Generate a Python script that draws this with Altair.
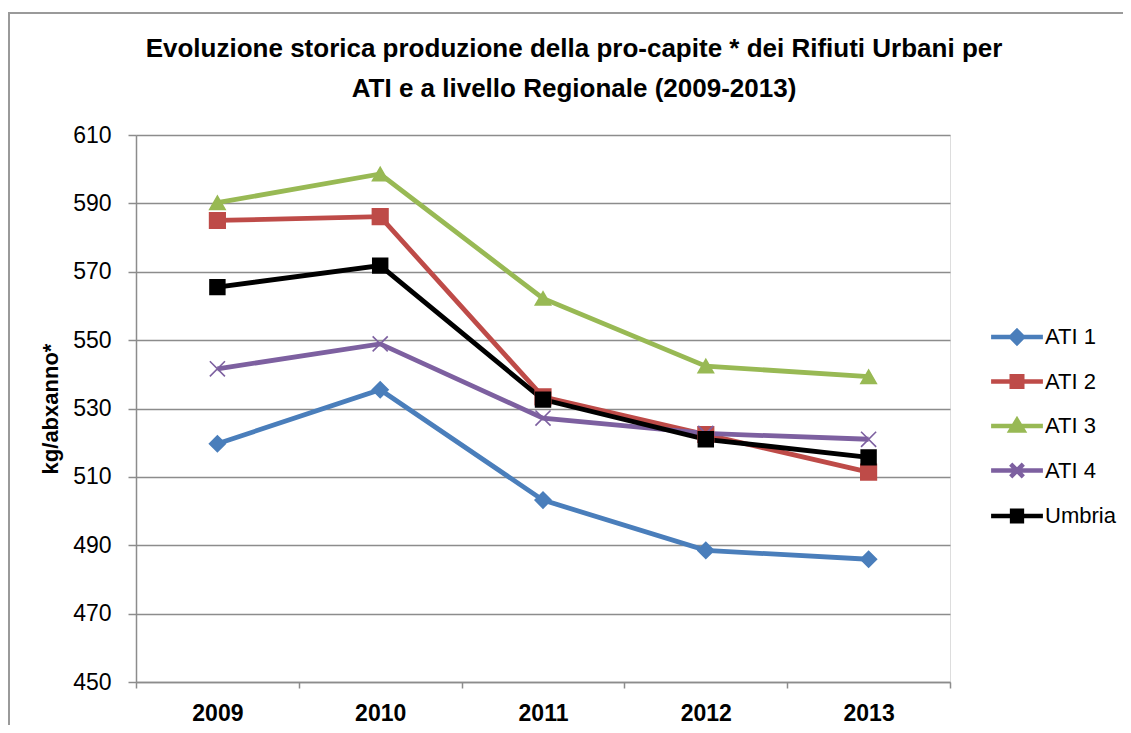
import altair as alt
import pandas as pd

years = ["2009", "2010", "2011", "2012", "2013"]
series = ["ATI 1", "ATI 2", "ATI 3", "ATI 4", "Umbria"]
ati1 = [519.7, 535.5, 503.2, 488.5, 485.9]
ati2 = [585.0, 586.1, 533.4, 522.4, 511.4]
ati3 = [590.2, 598.6, 562.2, 542.4, 539.3]
ati4 = [541.6, 548.9, 527.2, 522.7, 521.0]
umbria = [565.5, 571.8, 532.6, 521.0, 515.7]
y_ticks = [450, 470, 490, 510, 530, 550, 570, 590, 610]

line_colors = ["#4A7EBB", "#BE4B48", "#98B954", "#7D60A0", "#000000"]
marker_shapes = ["diamond", "square", "triangle-up",
                 "M-1,-1L1,1M-1,1L1,-1", "square"]
marker_sizes = [250, 220, 260, 240, 230]
legend_shapes = [
    "M-3.7,0L3.7,0M0,-0.85L0.85,0L0,0.85L-0.85,0Z",
    "M-3.7,0L3.7,0M-0.75,-0.75L0.75,-0.75L0.75,0.75L-0.75,0.75Z",
    "M-3.7,0L3.7,0M0,-0.85L0.9,0.65L-0.9,0.65Z",
    "M-3.7,0L3.7,0M-0.9,-0.9L0.9,0.9M-0.9,0.9L0.9,-0.9",
    "M-3.7,0L3.7,0M-0.7,-0.75L0.7,-0.75L0.7,0.75L-0.7,0.75Z",
]

rows = []
for name, vals in zip(series, [ati1, ati2, ati3, ati4, umbria]):
    for yr, v in zip(years, vals):
        rows.append({"year": yr, "series": name, "value": v})
df = pd.DataFrame(rows)

FONT = "Liberation Sans"
GRAY = "#8c8c8c"

x_enc = alt.X(
    "year:O",
    sort=years,
    scale=alt.Scale(type="band", paddingInner=0, paddingOuter=0),
    axis=alt.Axis(
        title=None, labelAngle=0, tickBand="extent", tickSize=6,
        labelFontSize=23, labelFontWeight="bold", labelFont=FONT,
        labelColor="#000000", labelPadding=14, domainColor=GRAY,
        domainWidth=1.5, tickColor=GRAY, tickWidth=1.5, grid=False,
    ),
)
y_enc = alt.Y(
    "value:Q",
    scale=alt.Scale(domain=[450, 610], nice=False, zero=False),
    axis=alt.Axis(
        values=y_ticks, title="kg/abxanno*", titleFontSize=22,
        titleFont=FONT, titleFontWeight="bold", titleColor="#000000",
        titlePadding=10, labelFontSize=23, labelFont=FONT,
        labelColor="#000000", labelPadding=17, tickSize=8, tickColor=GRAY,
        tickWidth=1.5, domainColor=GRAY, domainWidth=1.5, grid=True,
        gridColor=GRAY, gridWidth=1.4,
    ),
)

base = alt.Chart(df)

lines = base.mark_line(strokeWidth=4.8).encode(
    x=x_enc, y=y_enc,
    color=alt.Color("series:N", sort=series,
                    scale=alt.Scale(domain=series, range=line_colors),
                    legend=None),
)

points = base.mark_point(filled=True, opacity=1, strokeWidth=1.6).encode(
    x=x_enc, y=y_enc,
    color=alt.Color("series:N", scale=alt.Scale(domain=series, range=line_colors),
                    legend=None),
    stroke=alt.Stroke("series:N", scale=alt.Scale(domain=series, range=line_colors),
                      legend=None),
    shape=alt.Shape("series:N", scale=alt.Scale(domain=series, range=marker_shapes),
                    legend=None),
    size=alt.Size("series:N", scale=alt.Scale(domain=series, range=marker_sizes),
                  legend=None),
)

legend_props = dict(
    title=None, orient="none", legendX=870, legendY=191, padding=0,
    labelFont=FONT, labelFontSize=22, labelColor="#000000",
    labelOffset=17, rowPadding=14.5, symbolSize=196, symbolStrokeWidth=4.5,
    symbolOpacity=1, labelLimit=200,
)

legend_layer = base.mark_point(filled=True, opacity=0, size=196).encode(
    x=x_enc, y=y_enc,
    color=alt.Color("series:N", scale=alt.Scale(domain=series, range=line_colors),
                    legend=alt.Legend(**legend_props)),
    stroke=alt.Stroke("series:N", scale=alt.Scale(domain=series, range=line_colors),
                      legend=alt.Legend(**legend_props)),
    shape=alt.Shape("series:N", scale=alt.Scale(domain=series, range=legend_shapes),
                    legend=alt.Legend(**legend_props)),
)

frame = alt.Chart(alt.Data(values=[{"f": 1}])).mark_rect(
    fill=None, stroke="#9a9a9a", strokeWidth=2
).encode(
    x=alt.value(-127), y=alt.value(-122), x2=alt.value(1100), y2=alt.value(700)
)

chart = alt.layer(frame, lines, points, legend_layer).resolve_scale(
    color="independent", stroke="independent", shape="independent",
    size="independent"
).properties(
    width=814, height=547,
    padding={"left": 128, "top": 127, "right": 173, "bottom": 43},
    autosize=alt.AutoSizeParams(type="none"),
    title=alt.TitleParams(
        text=["Evoluzione storica produzione della pro-capite * dei Rifiuti Urbani per",
              "ATI e a livello Regionale (2009-2013)"],
        font=FONT, fontSize=26, fontWeight="bold", color="#000000",
        lineHeight=40, anchor="middle", frame="group", dx=31, offset=-90,
    ),
).configure_view(stroke=None).configure(background="white")

chart.save("out.html", embed_options={"renderer": "svg", "actions": False})
